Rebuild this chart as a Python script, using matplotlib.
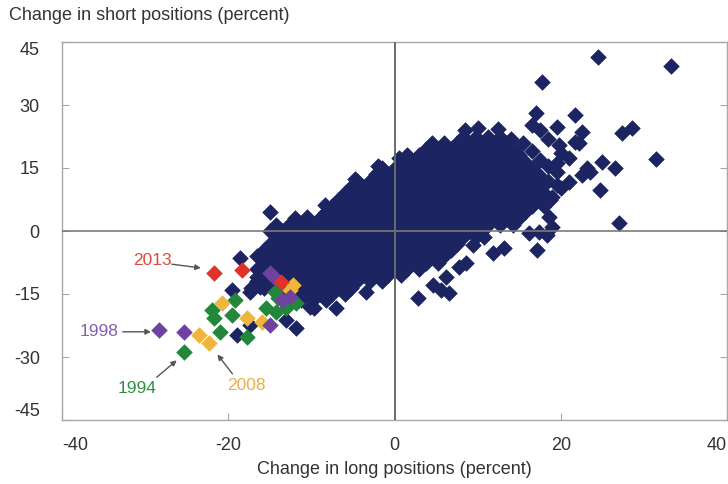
import matplotlib
matplotlib.use("Agg")
import matplotlib.pyplot as plt

plt.rcParams['font.family'] = ['Liberation Sans', 'DejaVu Sans']

# ---------------- data ----------------
# dense core of the cloud, row by row: y value and the x values of that row
core_y = [22.5, 21, 19.5, 18, 16.5, 15, 13.5, 12, 10.5, 9, 7.5, 6, 4.5, 3, 1.5, 0,
          -1.5, -3, -4.5, -6, -7.5, -9, -10.5, -12, -13.5, -15, -16.5]
core_x = [
    [8.25, 9.75, 11.25, 12.75],
    [4.5, 6, 7.5, 9, 10.5, 12, 13.5],
    [3.75, 5.25, 6.75, 8.25, 9.75, 11.25, 12.75, 14.25],
    [1.5, 3, 4.5, 6, 7.5, 9, 10.5, 12, 13.5, 15],
    [0.75, 2.25, 3.75, 5.25, 6.75, 8.25, 9.75, 11.25, 12.75, 14.25, 15.75],
    [-1.5, 0, 1.5, 3, 4.5, 6, 7.5, 9, 10.5, 12, 13.5, 15, 16.5],
    [-2.25, -0.75, 0.75, 2.25, 3.75, 5.25, 6.75, 8.25, 9.75, 11.25, 12.75, 14.25, 15.75, 17.25],
    [-4.5, -3, -1.5, 0, 1.5, 3, 4.5, 6, 7.5, 9, 10.5, 12, 13.5, 15, 16.5, 18],
    [-5.25, -3.75, -2.25, -0.75, 0.75, 2.25, 3.75, 5.25, 6.75, 8.25, 9.75, 11.25, 12.75, 14.25, 15.75, 17.25],
    [-6, -4.5, -3, -1.5, 0, 1.5, 3, 4.5, 6, 7.5, 9, 10.5, 12, 13.5, 15, 16.5, 18],
    [-6.75, -5.25, -3.75, -2.25, -0.75, 0.75, 2.25, 3.75, 5.25, 6.75, 8.25, 9.75, 11.25, 12.75, 14.25, 15.75, 17.25, 18.75],
    [-7.5, -6, -4.5, -3, -1.5, 0, 1.5, 3, 4.5, 6, 7.5, 9, 10.5, 12, 13.5, 15, 16.5, 18],
    [-8.25, -6.75, -5.25, -3.75, -2.25, -0.75, 0.75, 2.25, 3.75, 5.25, 6.75, 8.25, 9.75, 11.25, 12.75, 14.25, 15.75],
    [-12, -10.5, -9, -7.5, -6, -4.5, -3, -1.5, 0, 1.5, 3, 4.5, 6, 7.5, 9, 10.5, 12, 13.5, 15],
    [-14.25, -12.75, -11.25, -9.75, -8.25, -6.75, -5.25, -3.75, -2.25, -0.75, 0.75, 2.25, 3.75, 5.25, 6.75, 8.25, 9.75, 11.25, 12.75, 14.25],
    [-15, -13.5, -12, -10.5, -9, -7.5, -6, -4.5, -3, -1.5, 0, 1.5, 3, 4.5, 6, 7.5, 9, 10.5],
    [-14.25, -12.75, -11.25, -9.75, -8.25, -6.75, -5.25, -3.75, -2.25, -0.75, 0.75, 2.25, 3.75, 5.25, 6.75, 8.25, 9.75],
    [-15, -13.5, -12, -10.5, -9, -7.5, -6, -4.5, -3, -1.5, 0, 1.5, 3, 4.5, 6, 7.5],
    [-15.75, -14.25, -12.75, -11.25, -9.75, -8.25, -6.75, -5.25, -3.75, -2.25, -0.75, 0.75, 2.25, 3.75, 5.25, 6.75],
    [-16.5, -15, -13.5, -12, -10.5, -9, -7.5, -6, -4.5, -3, -1.5, 0, 1.5, 3, 4.5, 6],
    [-15.75, -14.25, -12.75, -11.25, -9.75, -8.25, -6.75, -5.25, -3.75, -2.25, -0.75, 0.75, 2.25, 3.75, 5.25],
    [-16.5, -15, -13.5, -12, -10.5, -9, -7.5, -6, -4.5, -3, -1.5, 0, 1.5, 3],
    [-15.75, -14.25, -12.75, -11.25, -9.75, -8.25, -6.75, -5.25, -3.75, -2.25, -0.75, 0.75],
    [-16.5, -15, -13.5, -12, -10.5, -9, -7.5, -6, -4.5, -3, -1.5],
    [-17.25, -15.75, -14.25, -12.75, -11.25, -9.75, -8.25, -6.75, -5.25],
    [-13.5, -12, -10.5, -9, -7.5, -6],
    [-11.25, -9.75, -8.25],
]

# scattered (non-core) navy points
other_x = [-15, -12, -10.5, -8.4, -4.8, -2, 0.5, -18.6, -16.6, -19.5, -17.4, -16.2, -19, -17.4,
           -11.8, -13, -10.2, -9.7, -7, -3.4, 2.8, 4.6, 5.6, 6.6, 6.2, 7.8, 8.6, 9.4, 10.8,
           11.8, 13.2, 16.2, 18.3, 17.2, 17.4, 18.6, 19, 18.9, 20, 21, 22.5, 23.1, 24.7, 25,
           26.5, 27, 31.4, 19.8, 21.7, 16.6, 17.5, 19.6, 22.6, 27.4, 28.6, 17, 21.7, 17.7,
           24.5, 33.3, 8.5, 10, 12.5, 14, 15.5, 16.5, 17.5, 18.5, 19.5, 18.5, 20, 19.6, 21,
           22.2, 23.5, 18.5, 19.5]
other_y = [4.5, 2.5, 3.3, 6.2, 12.5, 15.5, 17.5, -6.4, -11, -14, -14.5, -13.3, -24.8, -22.4,
           -23, -21.2, -18.1, -18.4, -18.4, -14.5, -16, -12.9, -14, -14.8, -11, -8.6, -7.6,
           -3.3, -1.4, -5.2, -4, -0.5, -1, -4.5, -0.2, 3.3, 1, 8.1, 10.2, 11.7, 13.3, 15, 9.8,
           16.4, 15, 1.9, 17.1, 20.5, 21.2, 25.2, 24, 24.8, 23.6, 23.3, 24.5, 28.1, 27.6, 35.5,
           41.4, 39.3, 24, 24.5, 24.3, 22, 21, 19, 17, 15.5, 14, 22, 18.5, 16.2, 17.4,
           21, 14, 12, 11]

# highlighted years
y2013_x = [-21.7, -18.4, -13.6]
y2013_y = [-10, -9.3, -12.1]
y1998_x = [-28.3, -25.3, -15, -13.5, -15, -12.6, -14.5]
y1998_y = [-23.6, -24, -10, -16.4, -22.4, -15.7, -11]
y2008_x = [-23.5, -22.3, -20.8, -17.8, -12.6, -15.9, -12.2]
y2008_y = [-24.8, -26.7, -17.1, -20.7, -14, -21.7, -12.8]
y1994_x = [-25.3, -22, -21.7, -19.2, -21, -19.5, -17.7, -14.4, -15.4, -14.2, -13, -14, -11.8]
y1994_y = [-28.8, -18.8, -20.7, -16.4, -24, -20, -25.2, -14.5, -18.3, -19.3, -18.3, -16, -17.2]

x_ticks = [-40, -20, 0, 20, 40]
y_ticks = [-45, -30, -15, 0, 15, 30, 45]

# ---------------- styling ----------------
NAVY = '#1c2461'
RED = '#e0322b'
PURPLE = '#6f42a0'
GOLD = '#f0b53c'
GREEN = '#22873a'
MS = 64

fig = plt.figure(figsize=(7.28, 4.84), dpi=100)
ax = fig.add_axes([62 / 728, 1 - 420 / 484, 665 / 728, 378 / 484])

cx, cy = [], []
for yv, row in zip(core_y, core_x):
    for xv in row:
        cx.append(xv)
        cy.append(yv)

kw = dict(s=MS, marker='D', linewidths=0.4)
ax.scatter(cx, cy, color=NAVY, edgecolors=NAVY, zorder=2, **kw)
ax.scatter(other_x, other_y, color=NAVY, edgecolors=NAVY, zorder=2, **kw)
ax.scatter(y1994_x, y1994_y, color=GREEN, edgecolors=GREEN, zorder=3, **kw)
ax.scatter(y2008_x, y2008_y, color=GOLD, edgecolors=GOLD, zorder=3, **kw)
ax.scatter(y1998_x, y1998_y, color=PURPLE, edgecolors=PURPLE, zorder=3, **kw)
ax.scatter(y2013_x, y2013_y, color=RED, edgecolors=RED, zorder=3, **kw)

ax.axhline(0, color='#7a7a7a', lw=1.2, zorder=4)
ax.axvline(0, color='#6a6a6a', lw=1.4, zorder=4)

ax.set_xlim(-40, 40)
ax.set_ylim(-45, 45)
ax.set_xticks(x_ticks)
ax.set_yticks(y_ticks)
ax.set_xticklabels([str(v) for v in x_ticks])
ax.set_yticklabels([str(v) for v in y_ticks])
for sp in ax.spines.values():
    sp.set_color('#a8a8a8')
    sp.set_linewidth(1.0)
ax.tick_params(axis='both', direction='in', length=5, color='#a8a8a8',
               labelsize=13, labelcolor='#333333')
ax.tick_params(axis='y', right=True, pad=16)
ax.tick_params(axis='x', pad=12)
xl = ax.get_xticklabels()
xl[0].set_horizontalalignment('left')
xl[-1].set_horizontalalignment('right')
yl = ax.get_yticklabels()
yl[0].set_verticalalignment('bottom')
yl[-1].set_verticalalignment('top')

fig.text(9 / 728, 1 - 15 / 484, 'Change in short positions (percent)', fontsize=13,
         color='#333333', va='center', ha='left')
fig.text(394.5 / 728, 1 - 470 / 484, 'Change in long positions (percent)', fontsize=13,
         color='#333333', va='center', ha='center')

arrow = dict(arrowstyle='-|>', color='#555555', lw=1.0, mutation_scale=8,
             shrinkA=0, shrinkB=0)
ax.text(-29.1, -7.1, '2013', color='#e0483a', fontsize=12.5, ha='center', va='center')
ax.annotate('', xy=(-23.3, -8.8), xytext=(-26.8, -7.9), arrowprops=arrow)
ax.text(-35.5, -24.0, '1998', color='#8460ae', fontsize=12.5, ha='center', va='center')
ax.annotate('', xy=(-29.3, -24.0), xytext=(-32.7, -24.0), arrowprops=arrow)
ax.text(-31.0, -37.6, '1994', color='#2f8f45', fontsize=12.5, ha='center', va='center')
ax.annotate('', xy=(-26.2, -30.8), xytext=(-28.6, -34.8), arrowprops=arrow)
ax.text(-17.8, -36.7, '2008', color='#e6b04a', fontsize=12.5, ha='center', va='center')
ax.annotate('', xy=(-21.3, -29.4), xytext=(-19.5, -34.0), arrowprops=arrow)

fig.savefig('out.png', dpi=100)
